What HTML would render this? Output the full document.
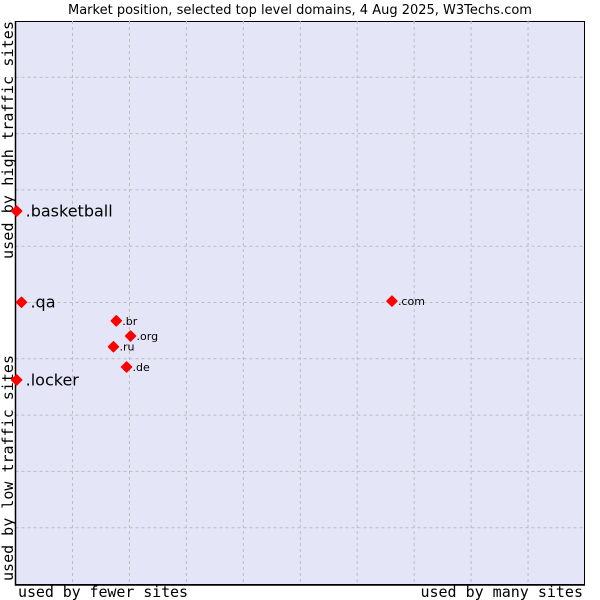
<!DOCTYPE html>
<html><head><meta charset="utf-8"><style>
body{margin:0;background:#fff;}
svg{display:block;font-family:"DejaVu Sans","Liberation Sans",sans-serif;}
</style></head><body>
<svg id="chart" width="600" height="600" viewBox="0 0 600 600">
<text x="300" y="14" text-anchor="middle" font-size="13" fill="#000">Market position, selected top level domains, 4 Aug 2025, W3Techs.com</text>
<rect x="15.5" y="21.5" width="569" height="563" fill="#e4e6f8" stroke="#000" stroke-width="1"/>
<g id="grid"></g>
<path d="M15.5 21 V585 H585" fill="none" stroke="#000" stroke-width="1.5"/>
<text x="18" y="597" font-family="DejaVu Sans Mono,monospace" font-size="15" textLength="170">used by fewer sites</text>
<text x="583" y="597" text-anchor="end" font-family="DejaVu Sans Mono,monospace" font-size="15">used by many sites</text>
<text transform="translate(13,581) rotate(-90)" font-family="DejaVu Sans Mono,monospace" font-size="15" textLength="226">used by low traffic sites</text>
<text transform="translate(13,259) rotate(-90)" font-family="DejaVu Sans Mono,monospace" font-size="15" textLength="238">used by high traffic sites</text>
<g id="points"></g>
</svg>
<script>
const labels = [".basketball", ".qa", ".locker", ".br", ".org", ".ru", ".de", ".com"];
const xValues = [0.2, 1.05, 0.2, 17.7, 20.2, 17.2, 19.5, 66.1];
const yValues = [66.6, 50.4, 36.6, 47.1, 44.4, 42.5, 38.9, 50.6];
const bigLabel = [true, true, true, false, false, false, false, false];
const L=15.5,R=585,T=23,B=586;
const GT=21,GB=584;
const sx=v=>L+(R-L)*v/100;
const sy=v=>B-(B-T)*v/100;
const NS="http://www.w3.org/2000/svg";
const grid=document.getElementById('grid');
for(let i=1;i<10;i++){
  const x=L+(R-L)*i/10;
  const l=document.createElementNS(NS,'line');
  
  
  l.setAttribute('x1',x);l.setAttribute('x2',x);l.setAttribute('y1',GT);l.setAttribute('y2',GB);
  l.setAttribute('stroke','#bbb');l.setAttribute('stroke-dasharray','3,3');
  grid.appendChild(l);
  const y=GT+(GB-GT)*i/10;
  const h=document.createElementNS(NS,'line');
  
  
  h.setAttribute('x1',L);h.setAttribute('x2',R);h.setAttribute('y1',y);h.setAttribute('y2',y);
  h.setAttribute('stroke','#bbb');h.setAttribute('stroke-dasharray','3,3');
  grid.appendChild(h);
}
const pts=document.getElementById('points');
labels.forEach((lab,i)=>{
  const x=sx(xValues[i]),y=sy(yValues[i]);
  const d=document.createElementNS(NS,'polygon');
  
  
  d.setAttribute('points',`${x},${y-5} ${x+5},${y} ${x},${y+5} ${x-5},${y}`);
  d.setAttribute('fill','#f00');
  d.setAttribute('stroke','#f00');
  d.setAttribute('stroke-linejoin','round');
  d.setAttribute('stroke-width','1.5');
  pts.appendChild(d);
  const t=document.createElementNS(NS,'text');
  
  
  t.setAttribute('x',x+(bigLabel[i]?9:6));
  t.setAttribute('y',y+(bigLabel[i]?5.5:4));
  t.setAttribute('font-size',bigLabel[i]?16:11);
  t.textContent=lab;
  pts.appendChild(t);
});
</script>
</body></html>
